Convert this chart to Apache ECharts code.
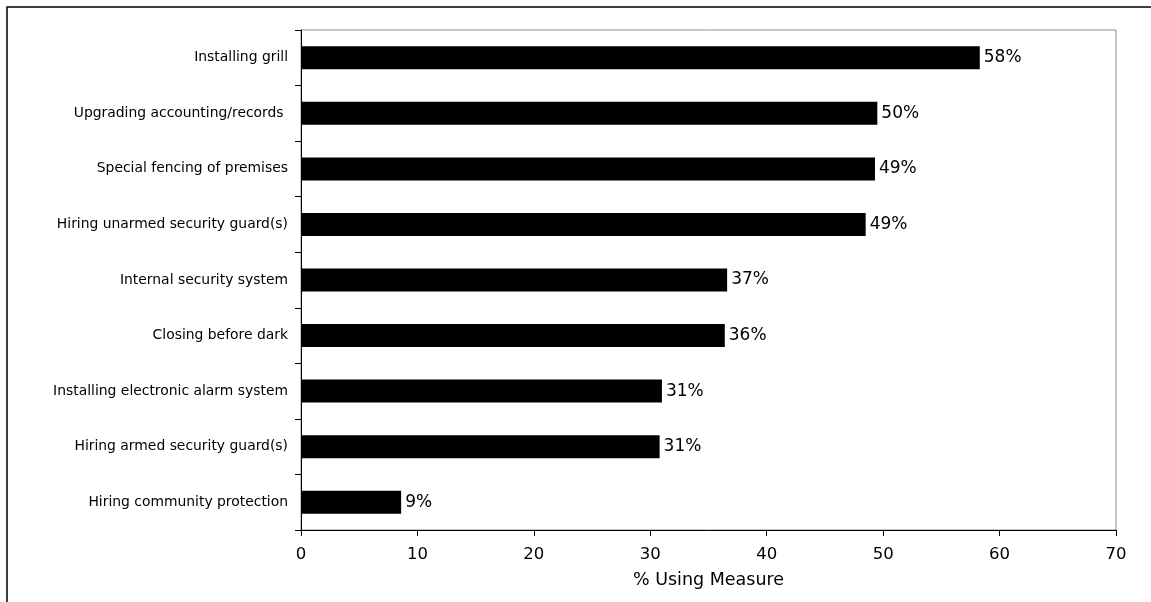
<!DOCTYPE html>
<html>
<head>
<meta charset="utf-8">
<title>Security measures</title>
<script src="https://cdn.jsdelivr.net/npm/echarts@6/dist/echarts.min.js"></script>
<style>
  html, body { margin: 0; padding: 0; background: #fff; }
  #chart { width: 1151px; height: 602px; }
</style>
</head>
<body>
<div id="chart"></div>
<script>
// Security measures, top to bottom
var categories = [
  'Installing grill',
  'Upgrading accounting/records ',
  'Special fencing of premises',
  'Hiring unarmed security guard(s)',
  'Internal security system',
  'Closing before dark',
  'Installing electronic alarm system',
  'Hiring armed security guard(s)',
  'Hiring community protection'
];

// Share of respondents using each measure (%)
var usingMeasure = [58.3, 49.5, 49.3, 48.5, 36.6, 36.4, 31.0, 30.8, 8.6];

// Value axis ticks
var xTicks = [0, 10, 20, 30, 40, 50, 60, 70];

var FONT = 'DejaVu Sans';

var chart = echarts.init(document.getElementById('chart'), null, { renderer: 'canvas' });

chart.setOption({
  animation: false,
  backgroundColor: '#ffffff',
  textStyle: { fontFamily: FONT, color: '#000' },
  graphic: [{
    type: 'rect',
    silent: true,
    shape: { x: 7, y: 7, width: 1300, height: 800 },
    style: { fill: 'none', stroke: '#000', lineWidth: 1.5 }
  }],
  grid: {
    left: 301,
    right: 35,
    top: 30,
    bottom: 72,
    show: true,
    borderColor: '#8c8c8c',
    borderWidth: 1,
    backgroundColor: 'transparent'
  },
  xAxis: {
    type: 'value',
    min: xTicks[0],
    max: xTicks[xTicks.length - 1],
    interval: xTicks[1] - xTicks[0],
    name: '% Using Measure',
    nameLocation: 'middle',
    nameGap: 41,
    nameTextStyle: { fontFamily: FONT, fontSize: 17.5, color: '#000' },
    axisLine: { show: true, lineStyle: { color: '#000', width: 1 } },
    axisTick: { show: true, inside: false, length: 6, lineStyle: { color: '#000' } },
    axisLabel: { fontFamily: FONT, fontSize: 16.5, color: '#000', margin: 16 },
    splitLine: { show: false }
  },
  yAxis: {
    type: 'category',
    data: categories,
    inverse: true,
    axisLine: { show: true, lineStyle: { color: '#000', width: 1 } },
    axisTick: { show: true, inside: false, length: 6, alignWithLabel: false, lineStyle: { color: '#000' } },
    axisLabel: { fontFamily: FONT, fontSize: 13.9, color: '#000', margin: 13 },
    splitLine: { show: false }
  },
  series: [{
    type: 'bar',
    data: usingMeasure,
    barWidth: 23,
    itemStyle: { color: '#000' },
    label: {
      show: true,
      position: 'right',
      distance: 4,
      fontFamily: FONT,
      fontSize: 17,
      color: '#000',
      formatter: function (p) { return Math.round(p.value) + '%'; }
    }
  }]
});
</script>
</body>
</html>
